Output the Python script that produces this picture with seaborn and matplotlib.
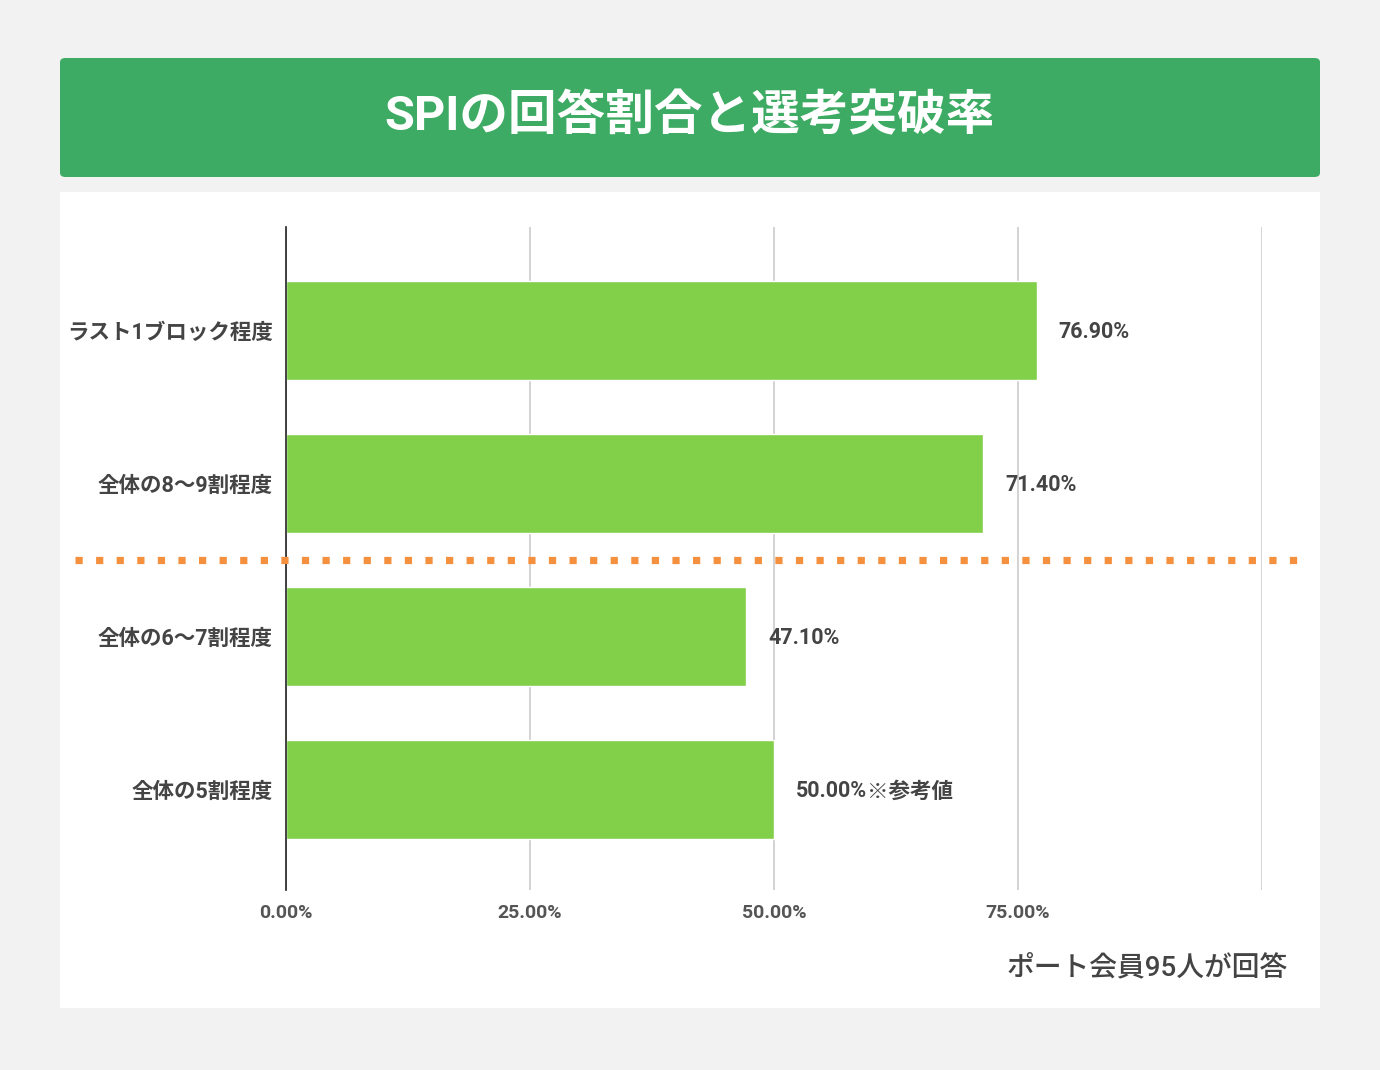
import matplotlib
matplotlib.use("Agg")
import matplotlib.pyplot as plt
from matplotlib.patches import FancyBboxPatch, Rectangle
from matplotlib.ticker import FuncFormatter
import seaborn as sns
import pandas as pd

# data
categories = ["ラスト1ブロック程度", "全体の8〜9割程度", "全体の6〜7割程度", "全体の5割程度"]
values = [76.9, 71.4, 47.1, 50.0]
notes = ["", "", "", "※参考値"]
xticks = [0, 25, 50, 75]
title = "SPIの回答割合と選考突破率"
footer = "ポート会員95人が回答"

sns.set_theme(style="white")
plt.rcParams['font.family'] = ['Roboto', 'Noto Sans CJK JP', 'DejaVu Sans']

W, H = 1380, 1070
fig = plt.figure(figsize=(W / 100, H / 100), dpi=100)
fig.patch.set_facecolor("#f2f2f2")

def fx(px):
    return px / W

def fy(py):
    return 1 - py / H

# green title banner
fig.patches.append(FancyBboxPatch((fx(60), fy(177)), fx(1260), (177 - 58) / H,
                                  boxstyle="round,pad=0,rounding_size=0.004",
                                  transform=fig.transFigure, facecolor="#3dab63",
                                  edgecolor="none", zorder=-2))
# white panel
fig.patches.append(Rectangle((fx(60), fy(1008)), fx(1260), (1008 - 192) / H,
                             transform=fig.transFigure, facecolor="white",
                             edgecolor="none", zorder=-2))

fig.text(fx(690), fy(117), title, ha="center", va="center", color="white",
         fontsize=35, fontweight="bold")

ax = fig.add_axes([fx(286), fy(890), (1262 - 286) / W, (890 - 227) / H])
ax.set_zorder(2)
ax.set_facecolor("none")

df = pd.DataFrame({"cat": categories, "val": values})
sns.barplot(data=df, y="cat", x="val", color="#82cf4a", saturation=1,
            width=0.647, ax=ax, zorder=2)

ax.set_xlim(0, 100)
ax.set_ylim(3.657, -0.676)
ax.set_xticks(xticks + [100])
ax.xaxis.set_major_formatter(FuncFormatter(lambda v, p: "" if v == 100 else f"{v:.2f}%"))
ax.tick_params(axis="x", length=0, pad=10, labelsize=14, labelcolor="#555555")
ax.tick_params(axis="y", length=0, pad=9.4, labelsize=15.5, labelcolor="#444444")
for lab in ax.get_xticklabels() + ax.get_yticklabels():
    lab.set_fontweight("bold")
ax.set_xlabel("")
ax.set_ylabel("")
ax.grid(axis="x", color="#cccccc", linewidth=1.2, zorder=0)
ax.grid(axis="y", visible=False)
for s in ["top", "right", "bottom"]:
    ax.spines[s].set_visible(False)
ax.spines["left"].set_color("#222222")
ax.spines["left"].set_linewidth(1.2)
ax.spines["left"].set_zorder(3)

for i, (v, n) in enumerate(zip(values, notes)):
    t = ax.annotate(f"{v:.2f}%", (v, i), xytext=(16, -1), textcoords="offset points",
                    ha="left", va="center", fontsize=15.5, fontweight="bold",
                    color="#444444")
    if n:
        ax.annotate(n, xy=(1, 0.5), xycoords=t, ha="left", va="center",
                    fontsize=15.5, fontweight="bold", color="#444444",
                    family=["Noto Sans CJK JP"])

# orange dotted separator between 8-9割 and 6-7割
ax.plot([-0.216, 1.047], [1.5, 1.5], transform=ax.get_yaxis_transform(),
        color="#f5913e", linewidth=5.2, linestyle=(0, (1, 1.85)),
        dash_capstyle="butt", clip_on=False, zorder=4)

fig.text(fx(1288), fy(968), footer, ha="right", va="center",
         fontsize=20, color="#444444", fontweight="medium")

fig.savefig("out.png", dpi=100, facecolor=fig.get_facecolor())
